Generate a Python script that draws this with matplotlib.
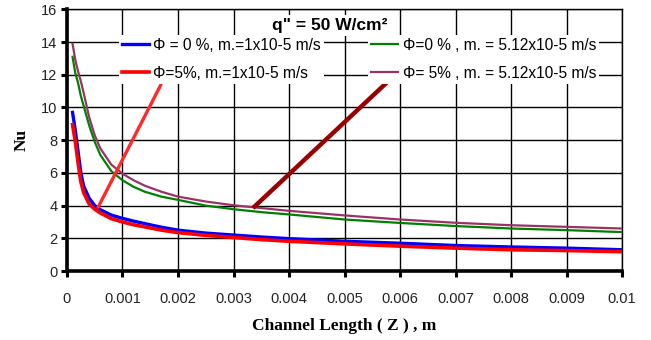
import matplotlib
matplotlib.use("Agg")
import matplotlib.pyplot as plt

# ---- data ----
z = [0.0001, 0.00015, 0.0002, 0.00025, 0.0003, 0.0004, 0.0005, 0.0006, 0.0008,
     0.001, 0.0012, 0.0014, 0.0017, 0.002, 0.0025, 0.003, 0.0035, 0.004, 0.005,
     0.006, 0.007, 0.008, 0.009, 0.01]
nu_phi0_m1 = [9.7, 8.6, 7.3, 6.0, 5.2, 4.45, 4.0, 3.75, 3.42, 3.22, 3.05, 2.9,
              2.68, 2.5, 2.32, 2.2, 2.08, 1.98, 1.82, 1.7, 1.56, 1.47, 1.4, 1.3]
nu_phi5_m1 = [8.95, 7.9, 6.6, 5.45, 4.8, 4.1, 3.78, 3.55, 3.2, 3.0, 2.83, 2.7,
              2.5, 2.35, 2.18, 2.05, 1.92, 1.82, 1.66, 1.52, 1.4, 1.3, 1.25, 1.18]
nu_phi0_m512 = [13.1, 12.1, 11.5, 10.7, 10.1, 8.9, 7.9, 7.1, 6.1, 5.55, 5.15,
                4.85, 4.55, 4.35, 4.0, 3.78, 3.6, 3.46, 3.15, 2.94, 2.75, 2.6,
                2.5, 2.38]
nu_phi5_m512 = [13.9, 12.9, 12.2, 11.6, 10.9, 9.4, 8.3, 7.5, 6.5, 5.95, 5.55,
                5.22, 4.85, 4.55, 4.25, 4.02, 3.85, 3.68, 3.4, 3.15, 2.95, 2.8,
                2.7, 2.6]

labels = ["\u03A6 = 0 %, m.=1x10-5 m/s",
          "\u03A6=5%, m.=1x10-5 m/s",
          "\u03A6=0 % , m. = 5.12x10-5 m/s",
          "\u03A6= 5% , m. = 5.12x10-5 m/s"]

# pointer lines (from curve to legend)
ptr1_x = [0.00055, 0.0017]
ptr1_y = [3.83, 11.45]
ptr2_x = [0.00335, 0.00587]
ptr2_y = [3.85, 11.87]

xticks = [0, 0.001, 0.002, 0.003, 0.004, 0.005, 0.006, 0.007, 0.008, 0.009, 0.01]
xticklabels = ["0", "0.001", "0.002", "0.003", "0.004", "0.005", "0.006",
               "0.007", "0.008", "0.009", "0.01"]
yticks = [0, 2, 4, 6, 8, 10, 12, 14, 16]

# ---- figure ----
fig = plt.figure(figsize=(6.51, 3.40), dpi=100)
ax = fig.add_axes([0.1029, 0.2029, 0.8526, 0.7695])
sans = "Liberation Sans"
serif = "Liberation Serif"

ax.set_xlim(0, 0.01)
ax.set_ylim(0, 16)
ax.set_xticks(xticks)
ax.set_xticklabels(xticklabels, fontfamily=sans, fontsize=10.5, color="#222222")
ax.set_yticks(yticks)
ax.set_yticklabels([str(v) for v in yticks], fontfamily=sans, fontsize=10.5,
                   color="#222222")
ax.grid(True, color="black", linewidth=1.0, zorder=0)
ax.set_axisbelow(True)
for s in ["left", "bottom"]:
    ax.spines[s].set_linewidth(2.6)
for s in ["top", "right"]:
    ax.spines[s].set_linewidth(1.0)
ax.tick_params(axis="both", direction="out", length=4, width=2.2, color="black")
ax.tick_params(axis="x", pad=11)
ax.tick_params(axis="y", pad=3)

l1, = ax.plot(z, nu_phi0_m1, color="#0000ff", lw=2.4, zorder=3)
l2, = ax.plot(z, nu_phi5_m1, color="#ff0000", lw=2.6, zorder=3.1)
l3, = ax.plot(z, nu_phi0_m512, color="#008000", lw=1.6, zorder=3)
l4, = ax.plot(z, nu_phi5_m512, color="#993366", lw=1.6, zorder=2.9)

ax.plot(ptr1_x, ptr1_y, color="#ff2a2a", lw=2.4, solid_capstyle="butt", zorder=4)
ax.plot(ptr2_x, ptr2_y, color="#990000", lw=3.2, solid_capstyle="butt", zorder=4)

ax.text(0.00473, 15.0, "q\" = 50 W/cm\u00b2", ha="center", va="center",
        fontfamily=sans, fontweight="bold", fontsize=12.5, zorder=5,
        bbox=dict(facecolor="white", edgecolor="none", pad=2))

leg_kw = dict(frameon=True, facecolor="white", edgecolor="none", framealpha=1,
              fancybox=False, handlelength=1.7,
              handletextpad=0.3, labelspacing=0.85, borderpad=0.2,
              borderaxespad=0, loc="center left")
leg1 = ax.legend([l1, l2], labels[:2], bbox_to_anchor=(0.00094, 12.95),
                 bbox_transform=ax.transData,
                 prop={"family": sans, "size": 11.2}, **leg_kw)
ax.add_artist(leg1)
leg2 = ax.legend([l3, l4], labels[2:], bbox_to_anchor=(0.00543, 12.95),
                 bbox_transform=ax.transData,
                 prop={"family": sans, "size": 11.2}, **leg_kw)
leg1.set_zorder(5)
leg2.set_zorder(5)

ax.set_ylabel("Nu", fontfamily=serif, fontweight="bold", fontsize=12.5, labelpad=8)
ax.set_xlabel("Channel Length ( Z ) , m", fontfamily=serif, fontweight="bold",
              fontsize=12.5, labelpad=9)

fig.savefig("out.png", dpi=100, facecolor="white")
